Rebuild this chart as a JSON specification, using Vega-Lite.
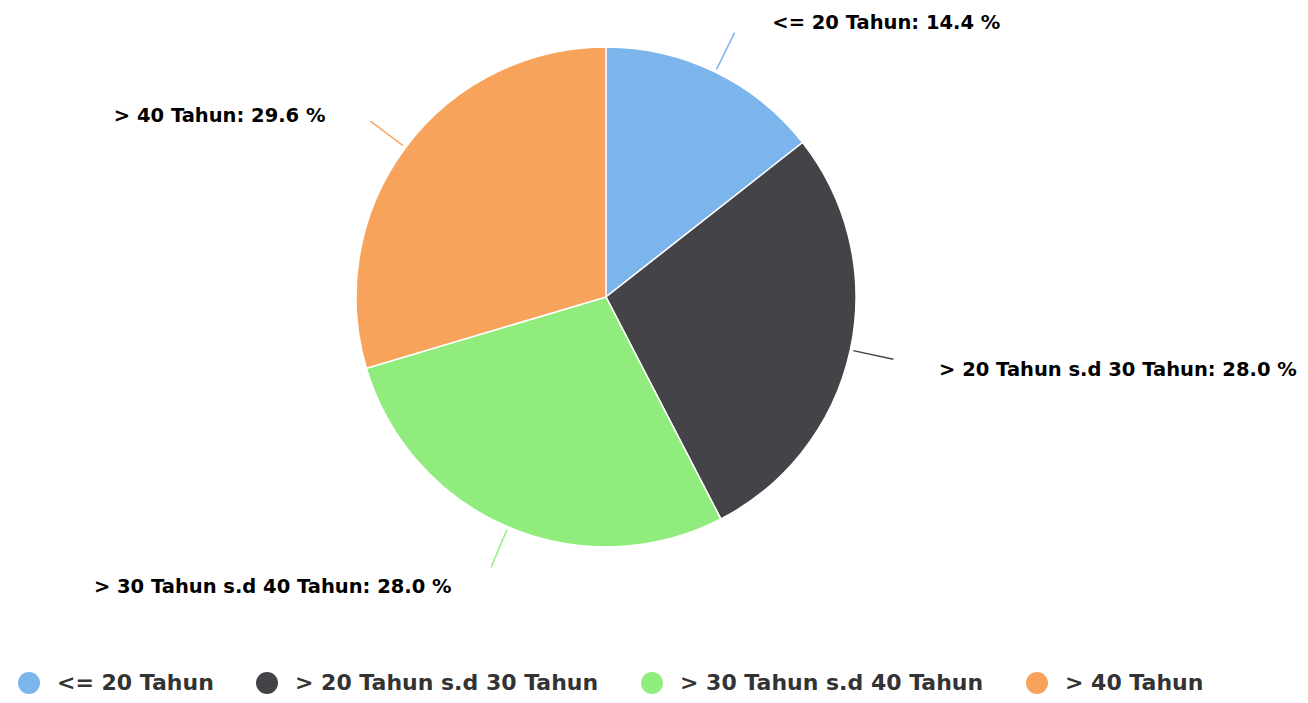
{
  "$schema": "https://vega.github.io/schema/vega-lite/v6.json",
  "width": 1212,
  "height": 594,
  "autosize": "none",
  "padding": {"left": 0, "top": 0, "right": 96, "bottom": 109},
  "background": "white",
  "config": {"view": {"stroke": null}},
  "data": {
    "values": [
      {"kelompok": "<= 20 Tahun", "persen": 14.4, "label": "<= 20 Tahun: 14.4 %"},
      {"kelompok": "> 20 Tahun s.d 30 Tahun", "persen": 28.0, "label": "> 20 Tahun s.d 30 Tahun: 28.0 %"},
      {"kelompok": "> 30 Tahun s.d 40 Tahun", "persen": 28.0, "label": "> 30 Tahun s.d 40 Tahun: 28.0 %"},
      {"kelompok": "> 40 Tahun", "persen": 29.6, "label": "> 40 Tahun: 29.6 %"}
    ]
  },
  "encoding": {
    "theta": {"field": "persen", "type": "quantitative", "stack": true, "scale": {"domain": [0, 100]}}
  },
  "layer": [
    {
      "mark": {"type": "arc", "outerRadius": 250, "stroke": "white", "strokeWidth": 1.5},
      "encoding": {
        "color": {
          "field": "kelompok", "type": "nominal",
          "scale": {
            "domain": ["<= 20 Tahun", "> 20 Tahun s.d 30 Tahun", "> 30 Tahun s.d 40 Tahun", "> 40 Tahun"],
            "range": ["#7cb5ec", "#434348", "#90ed7d", "#f7a35c"]
          },
          "sort": null,
          "legend": {
            "orient": "none",
            "legendX": 18,
            "legendY": 672,
            "direction": "horizontal",
            "title": null,
            "symbolType": "circle",
            "symbolSize": 484,
            "symbolStrokeWidth": 0,
            "labelFont": "DejaVu Sans",
            "labelFontSize": 22,
            "labelFontWeight": "bold",
            "labelColor": "#333333",
            "labelLimit": 0,
            "labelOffset": 17,
            "columnPadding": 42
          }
        }
      }
    },
    {
      "mark": {"type": "arc", "radius": 253, "radius2": 294, "padAngle": 3, "filled": false, "strokeWidth": 1.5},
      "encoding": {
        "stroke": {
          "field": "kelompok", "type": "nominal",
          "scale": {
            "domain": ["<= 20 Tahun", "> 20 Tahun s.d 30 Tahun", "> 30 Tahun s.d 40 Tahun", "> 40 Tahun"],
            "range": ["#7cb5ec", "#434348", "#90ed7d", "#f7a35c"]
          },
          "legend": null
        }
      }
    },
    {
      "mark": {"type": "text", "radius": 305, "align": "left", "baseline": "middle", "dx": 33, "dy": 0, "font": "DejaVu Sans", "fontSize": 19.5, "fontWeight": "bold", "fill": "#000000"},
      "encoding": {
        "text": {"condition": {"test": "datum.kelompok === '<= 20 Tahun'", "field": "label"}, "value": ""}
      }
    },
    {
      "mark": {"type": "text", "radius": 305, "align": "left", "baseline": "middle", "dx": 35, "dy": 8, "font": "DejaVu Sans", "fontSize": 19.5, "fontWeight": "bold", "fill": "#000000"},
      "encoding": {
        "text": {"condition": {"test": "datum.kelompok === '> 20 Tahun s.d 30 Tahun'", "field": "label"}, "value": ""}
      }
    },
    {
      "mark": {"type": "text", "radius": 305, "align": "right", "baseline": "middle", "dx": -35, "dy": 9, "font": "DejaVu Sans", "fontSize": 19.5, "fontWeight": "bold", "fill": "#000000"},
      "encoding": {
        "text": {"condition": {"test": "datum.kelompok === '> 30 Tahun s.d 40 Tahun'", "field": "label"}, "value": ""}
      }
    },
    {
      "mark": {"type": "text", "radius": 305, "align": "right", "baseline": "middle", "dx": -36, "dy": 1, "font": "DejaVu Sans", "fontSize": 19.5, "fontWeight": "bold", "fill": "#000000"},
      "encoding": {
        "text": {"condition": {"test": "datum.kelompok === '> 40 Tahun'", "field": "label"}, "value": ""}
      }
    }
  ]
}
